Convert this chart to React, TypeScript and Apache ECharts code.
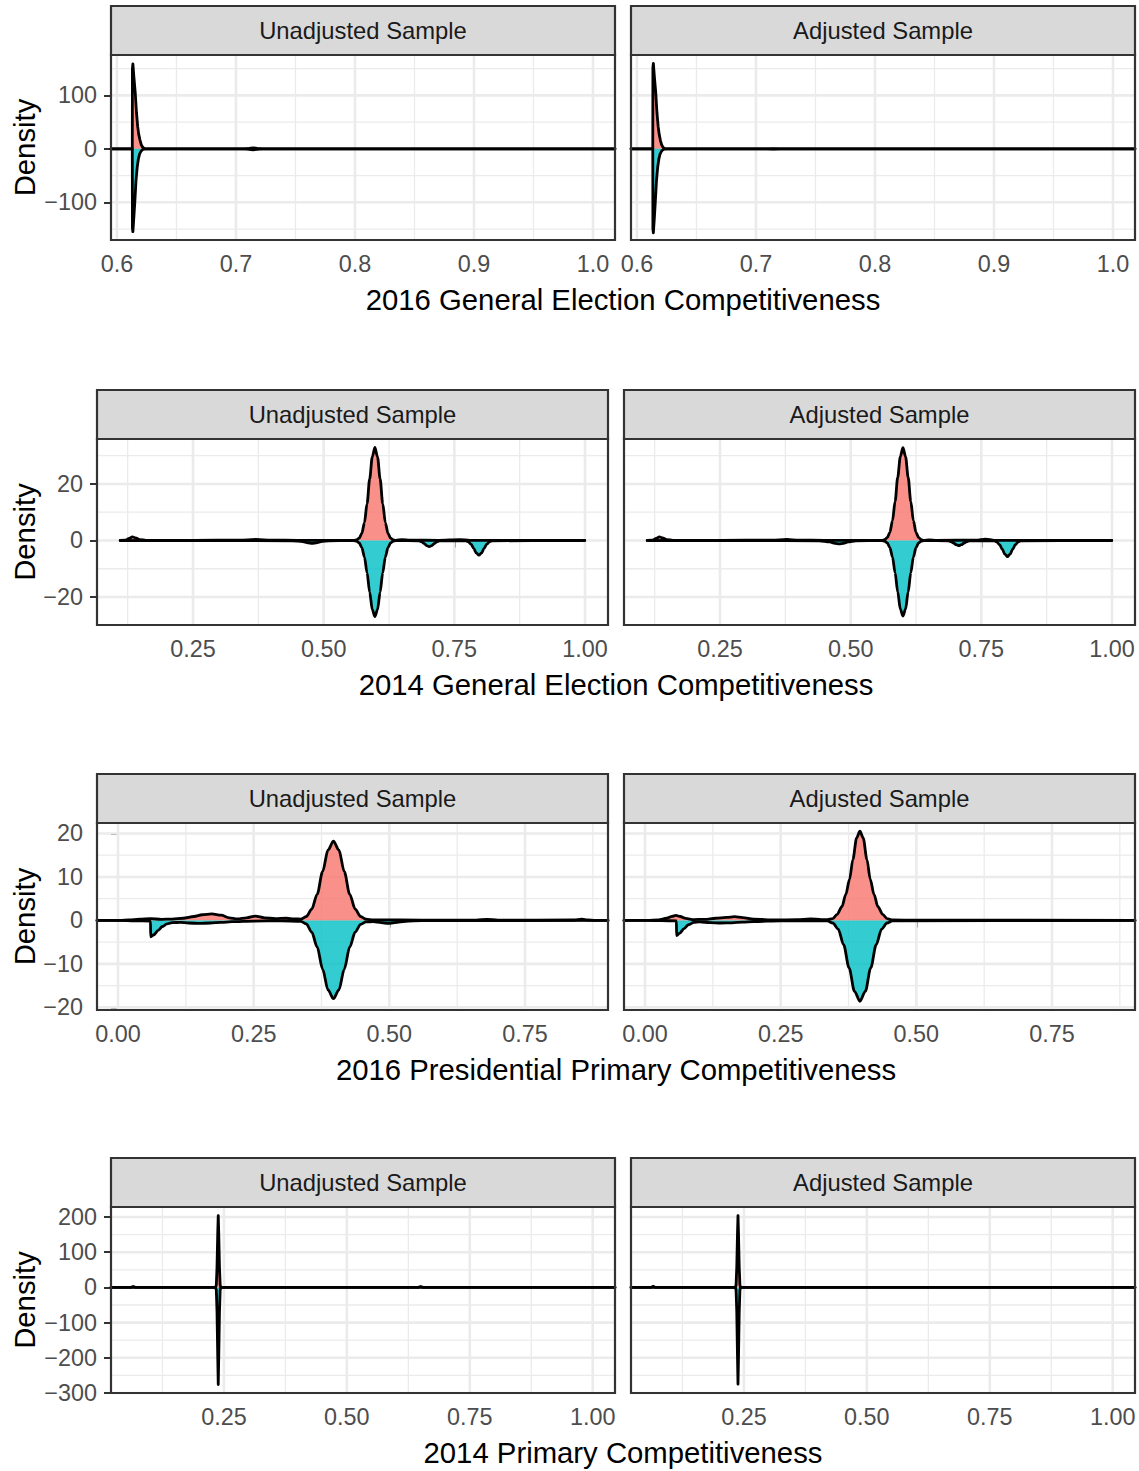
import React, { useEffect, useRef } from 'react';
import * as echarts from 'echarts';

type Pt = [number, number];

const FACETS = ['Unadjusted Sample', 'Adjusted Sample'];
const X_TITLES = [
  '2016 General Election Competitiveness',
  '2014 General Election Competitiveness',
  '2016 Presidential Primary Competitiveness',
  '2014 Primary Competitiveness',
];
const Y_TITLE = 'Density';

// Tick values per row
const ge16XTicks = [0.6, 0.7, 0.8, 0.9, 1.0];
const ge16YTicks = [-100, 0, 100];
const ge14XTicks = [0.25, 0.5, 0.75, 1.0];
const ge14YTicks = [-20, 0, 20];
const pp16XTicks = [0, 0.25, 0.5, 0.75];
const pp16YTicks = [-20, -10, 0, 10, 20];
const pr14XTicks = [0.25, 0.5, 0.75, 1.0];
const pr14YTicks = [-300, -200, -100, 0, 100, 200];

// 2016 general election: upper = first group (drawn up), lower = second group (mirrored down)
const ge16UnadjUpper: Pt[] = [
  [0.595, 0], [0.6129, 0], [0.613, 150], [0.6134, 159], [0.6142, 135], [0.6154, 104], [0.6164, 68],
  [0.6174, 42], [0.6183, 27], [0.6193, 17], [0.6204, 8], [0.6216, 3], [0.623, 0.6], [0.625, 0],
  [0.707, 0], [0.711, 0.8], [0.7145, 1.8], [0.718, 0.8], [0.722, 0], [1.0185, 0],
];
const ge16UnadjLower: Pt[] = [
  [0.595, 0], [0.6129, 0], [0.613, -148], [0.6134, -155], [0.6142, -128], [0.615, -100], [0.616, -60],
  [0.617, -35], [0.618, -19], [0.619, -10], [0.6202, -4.5], [0.6215, -1.5], [0.623, -0.3], [0.625, 0],
  [0.707, 0], [0.711, -0.8], [0.7145, -1.8], [0.718, -0.8], [0.722, 0], [1.0185, 0],
];
const ge16AdjUpper: Pt[] = [
  [0.595, 0], [0.6133, 0], [0.6134, 152], [0.6138, 160], [0.6146, 136], [0.6158, 105], [0.6168, 68],
  [0.6178, 42], [0.6187, 27], [0.6197, 16], [0.6207, 8], [0.6218, 3], [0.6232, 0.6], [0.6252, 0],
  [0.709, 0], [0.7145, 0.4], [0.72, 0], [1.0185, 0],
];
const ge16AdjLower: Pt[] = [
  [0.595, 0], [0.6133, 0], [0.6134, -150], [0.6138, -157], [0.6146, -130], [0.6154, -100], [0.6164, -60],
  [0.6174, -35], [0.6184, -19], [0.6194, -10], [0.6206, -4.5], [0.6219, -1.5], [0.6234, -0.3], [0.6254, 0],
  [0.709, 0], [0.7145, -0.4], [0.72, 0], [1.0185, 0],
];

// 2014 general election
const ge14UnadjUpper: Pt[] = [
  [0.1107, 0], [0.12, 0.1], [0.128, 0.7], [0.134, 1.3], [0.14, 0.9], [0.148, 0.3], [0.16, 0.05],
  [0.25, 0.05], [0.34, 0.1], [0.37, 0.35], [0.4, 0.1], [0.45, 0.05], [0.55, 0.02], [0.558, 0.05],
  [0.563, 0.2], [0.568, 0.8], [0.573, 2.5], [0.578, 6.3], [0.583, 13.0], [0.588, 21.8], [0.593, 29.6],
  [0.598, 32.9], [0.603, 29.6], [0.608, 21.8], [0.613, 13.0], [0.618, 6.3], [0.623, 2.5], [0.628, 0.8],
  [0.633, 0.2], [0.638, 0.05], [0.65, 0.3], [0.665, 0.1], [0.72, 0.05], [0.76, 0.3], [0.78, 0.05],
  [0.9995, 0],
];
const ge14UnadjLower: Pt[] = [
  [0.1107, 0], [0.2, -0.05], [0.3, -0.05], [0.44, -0.1], [0.46, -0.4], [0.47, -0.85], [0.478, -1.0],
  [0.486, -0.85], [0.495, -0.4], [0.51, -0.1], [0.55, -0.05], [0.558, -0.05], [0.563, -0.25],
  [0.568, -0.9], [0.573, -2.5], [0.578, -5.9], [0.583, -11.4], [0.588, -18.3], [0.593, -24.5],
  [0.598, -26.9], [0.603, -24.5], [0.608, -18.3], [0.613, -11.4], [0.618, -5.9], [0.623, -2.5],
  [0.628, -0.9], [0.633, -0.25], [0.638, -0.05], [0.682, -0.1], [0.687, -0.4], [0.692, -1.0],
  [0.697, -1.8], [0.702, -2.2], [0.707, -1.8], [0.712, -1.0], [0.717, -0.4], [0.722, -0.1],
  [0.772, -0.1], [0.777, -0.5], [0.782, -1.3], [0.787, -2.8], [0.792, -4.4], [0.797, -5.2],
  [0.802, -4.4], [0.807, -2.8], [0.812, -1.3], [0.817, -0.5], [0.822, -0.1], [0.9995, 0],
];
const ge14AdjUpper: Pt[] = [
  [0.1107, 0], [0.12, 0.1], [0.128, 0.7], [0.134, 1.3], [0.14, 0.9], [0.148, 0.3], [0.16, 0.05],
  [0.25, 0.05], [0.35, 0.1], [0.378, 0.4], [0.4, 0.1], [0.45, 0.05], [0.55, 0.02], [0.56, 0.07],
  [0.565, 0.3], [0.57, 1.0], [0.575, 2.9], [0.58, 7.0], [0.585, 13.8], [0.59, 22.3], [0.595, 29.7],
  [0.6, 32.8], [0.605, 29.7], [0.61, 22.3], [0.615, 13.8], [0.62, 7.0], [0.625, 2.9], [0.63, 1.0],
  [0.635, 0.3], [0.64, 0.07], [0.65, 0.2], [0.665, 0.05], [0.74, 0.1], [0.758, 0.5], [0.775, 0.05],
  [0.9995, 0],
];
const ge14AdjLower: Pt[] = [
  [0.1107, 0], [0.3, -0.05], [0.44, -0.1], [0.46, -0.5], [0.47, -1.0], [0.478, -1.2], [0.486, -1.0],
  [0.495, -0.5], [0.51, -0.1], [0.56, -0.05], [0.565, -0.25], [0.57, -0.9], [0.575, -2.5],
  [0.58, -5.9], [0.585, -11.4], [0.59, -18.2], [0.595, -24.3], [0.6, -26.7], [0.605, -24.3],
  [0.61, -18.2], [0.615, -11.4], [0.62, -5.9], [0.625, -2.5], [0.63, -0.9], [0.635, -0.25],
  [0.64, -0.05], [0.687, -0.1], [0.692, -0.4], [0.697, -0.9], [0.702, -1.5], [0.707, -1.8],
  [0.712, -1.5], [0.717, -0.9], [0.722, -0.4], [0.727, -0.1], [0.775, -0.1], [0.78, -0.6],
  [0.785, -1.5], [0.79, -3.1], [0.795, -4.8], [0.8, -5.7], [0.805, -4.8], [0.81, -3.1], [0.815, -1.5],
  [0.82, -0.6], [0.825, -0.1], [0.9995, 0],
];

// 2016 presidential primary
const pp16UnadjUpper: Pt[] = [
  [-0.0387, 0], [0.0041, 0], [0.02, 0.1], [0.04, 0.3], [0.06, 0.4], [0.08, 0.25], [0.1, 0.3], [0.12, 0.5],
  [0.14, 0.9], [0.155, 1.3], [0.173, 1.5], [0.19, 1.2], [0.205, 0.6], [0.22, 0.35], [0.237, 0.6],
  [0.253, 1.0], [0.27, 0.6], [0.29, 0.4], [0.31, 0.5], [0.325, 0.35], [0.337, 0.3], [0.347, 0.9],
  [0.357, 2.6], [0.367, 6.0], [0.377, 11.2], [0.387, 16.2], [0.397, 18.2], [0.407, 16.2], [0.417, 11.2],
  [0.427, 6.0], [0.437, 2.6], [0.447, 0.9], [0.457, 0.3], [0.47, 0.1], [0.52, 0.1], [0.6, 0.05],
  [0.66, 0.05], [0.68, 0.25], [0.7, 0.05], [0.84, 0.1], [0.855, 0.3], [0.865, 0.1], [0.88, 0],
  [0.9029, 0],
];
const pp16UnadjLower: Pt[] = [
  [-0.0387, 0], [0.0041, 0], [0.03, -0.1], [0.0599, -0.15], [0.0602, -3.8], [0.066, -3.3], [0.074, -2.3],
  [0.082, -1.4], [0.09, -0.8], [0.1, -0.5], [0.115, -0.45], [0.13, -0.6], [0.15, -0.7], [0.17, -0.6],
  [0.19, -0.45], [0.21, -0.3], [0.25, -0.15], [0.3, -0.1], [0.337, -0.2], [0.347, -0.8], [0.357, -2.7],
  [0.367, -6.1], [0.377, -11.2], [0.387, -16.0], [0.397, -18.0], [0.407, -16.0], [0.417, -11.2],
  [0.427, -6.1], [0.437, -2.7], [0.447, -0.9], [0.457, -0.35], [0.47, -0.3], [0.485, -0.5],
  [0.498, -0.7], [0.51, -0.5], [0.53, -0.2], [0.56, -0.05], [0.9029, 0],
];
const pp16AdjUpper: Pt[] = [
  [-0.0387, 0], [0.0041, 0], [0.025, 0.1], [0.04, 0.5], [0.05, 0.95], [0.057, 1.15], [0.065, 0.9],
  [0.075, 0.45], [0.09, 0.2], [0.11, 0.25], [0.13, 0.5], [0.15, 0.7], [0.165, 0.85], [0.18, 0.65],
  [0.2, 0.3], [0.24, 0.1], [0.28, 0.15], [0.305, 0.35], [0.325, 0.2], [0.336, 0.15], [0.346, 0.4],
  [0.354, 1.4], [0.363, 3.2], [0.37, 6.0], [0.377, 9.5], [0.383, 14.0], [0.39, 19.0], [0.396, 20.5],
  [0.402, 19.0], [0.409, 14.0], [0.415, 9.5], [0.422, 6.0], [0.429, 3.2], [0.438, 1.4], [0.446, 0.4],
  [0.456, 0.1], [0.5, 0.05], [0.55, 0.05], [0.9029, 0],
];
const pp16AdjLower: Pt[] = [
  [-0.0387, 0], [0.0041, 0], [0.03, -0.05], [0.0579, -0.1], [0.0582, -3.5], [0.064, -2.9], [0.072, -1.9],
  [0.08, -1.0], [0.09, -0.45], [0.1, -0.35], [0.12, -0.5], [0.14, -0.6], [0.16, -0.55], [0.18, -0.4],
  [0.2, -0.25], [0.25, -0.1], [0.336, -0.1], [0.346, -0.6], [0.356, -2.0], [0.366, -5.6], [0.376, -10.9],
  [0.386, -16.3], [0.396, -18.6], [0.406, -16.3], [0.416, -10.9], [0.426, -5.6], [0.436, -2.0],
  [0.446, -0.6], [0.456, -0.1], [0.9029, 0],
];

// 2014 primary
const pr14UnadjUpper: Pt[] = [
  [0.0203, 0], [0.061, 0], [0.0655, 2.5], [0.07, 0], [0.2329, 0], [0.2345, 7], [0.2359, 58],
  [0.2374, 155], [0.2384, 204], [0.2394, 155], [0.2409, 58], [0.2423, 7], [0.2439, 0],
  [0.645, 0], [0.65, 2.5], [0.655, 0], [1.0453, 0],
];
const pr14UnadjLower: Pt[] = [
  [0.0203, 0], [0.2329, 0], [0.2345, -8], [0.2359, -70], [0.2374, -200], [0.2384, -276],
  [0.2394, -200], [0.2409, -70], [0.2423, -8], [0.2439, 0], [1.0453, 0],
];
const pr14AdjUpper: Pt[] = [
  [0.0203, 0], [0.061, 0], [0.0655, 3], [0.07, 0], [0.2324, 0], [0.234, 7], [0.2354, 58],
  [0.2369, 155], [0.2379, 204], [0.2389, 155], [0.2404, 58], [0.2418, 7], [0.2434, 0], [1.0453, 0],
];
const pr14AdjLower: Pt[] = [
  [0.0203, 0], [0.2324, 0], [0.234, -8], [0.2354, -70], [0.2369, -200], [0.2379, -275],
  [0.2389, -200], [0.2404, -70], [0.2418, -8], [0.2434, 0], [1.0453, 0],
];

const FONT = '"Liberation Sans", Arial, Helvetica, sans-serif';
const UPPER_FILL = 'rgba(248,118,109,0.8)';
const LOWER_FILL = 'rgba(0,191,196,0.8)';

interface RowSpec {
  title: string;
  xTicks: number[];
  yTicks: number[];
  xRange: [number, number];
  yRange: [number, number];
  decimals: number;
  curves: [Pt[], Pt[]][];
  lefts: number[];
  width: number;
  top: number;
  height: number;
  smooth: number | false;
}

const ROWS: RowSpec[] = [
  {
    title: X_TITLES[0], xTicks: ge16XTicks, yTicks: ge16YTicks, xRange: [0.595, 1.0185], yRange: [-170.5, 175.5],
    decimals: 1, curves: [[ge16UnadjUpper, ge16UnadjLower], [ge16AdjUpper, ge16AdjLower]],
    lefts: [111, 631], width: 504, top: 55, height: 185, smooth: false,
  },
  {
    title: X_TITLES[1], xTicks: ge14XTicks, yTicks: ge14YTicks, xRange: [0.0663, 1.044], yRange: [-29.9, 35.9],
    decimals: 2, curves: [[ge14UnadjUpper, ge14UnadjLower], [ge14AdjUpper, ge14AdjLower]],
    lefts: [97, 624], width: 511, top: 439, height: 186, smooth: 0.3,
  },
  {
    title: X_TITLES[2], xTicks: pp16XTicks, yTicks: pp16YTicks, xRange: [-0.0387, 0.9029], yRange: [-20.6, 22.4],
    decimals: 2, curves: [[pp16UnadjUpper, pp16UnadjLower], [pp16AdjUpper, pp16AdjLower]],
    lefts: [97, 624], width: 511, top: 823, height: 187, smooth: 0.3,
  },
  {
    title: X_TITLES[3], xTicks: pr14XTicks, yTicks: pr14YTicks, xRange: [0.0203, 1.0453], yRange: [-300, 228.4],
    decimals: 2, curves: [[pr14UnadjUpper, pr14UnadjLower], [pr14AdjUpper, pr14AdjLower]],
    lefts: [111, 631], width: 504, top: 1207, height: 186, smooth: false,
  },
];

const STRIP_H = 49;

// Minor breaks sit halfway between major breaks (and half a step outside them when in range)
function minorBreaks(ticks: number[], range: [number, number]): number[] {
  const out: number[] = [];
  const step = ticks[1] - ticks[0];
  const cands = [ticks[0] - step / 2];
  for (let i = 0; i < ticks.length - 1; i++) cands.push((ticks[i] + ticks[i + 1]) / 2);
  cands.push(ticks[ticks.length - 1] + step / 2);
  cands.forEach((c) => {
    if (c > range[0] + 1e-9 && c < range[1] - 1e-9) out.push(c);
  });
  return out;
}

const fmtY = (v: number) => (v < 0 ? '\u2212' + Math.abs(v) : String(v));

function buildOption() {
  const grid: any[] = [];
  const xAxis: any[] = [];
  const yAxis: any[] = [];
  const series: any[] = [];
  const graphic: any[] = [];

  ROWS.forEach((row) => {
    const gridData: number[][] = [];
    minorBreaks(row.xTicks, row.xRange).forEach((v) => gridData.push([0, v, 0]));
    minorBreaks(row.yTicks, row.yRange).forEach((v) => gridData.push([1, v, 0]));
    row.xTicks.forEach((v) => gridData.push([0, v, 1]));
    row.yTicks.forEach((v) => gridData.push([1, v, 1]));

    row.lefts.forEach((left, p) => {
      const idx = grid.length;
      grid.push({
        left, top: row.top, width: row.width, height: row.height,
        containLabel: false, outerBoundsMode: 'none', show: false,
      });
      xAxis.push({
        type: 'value', gridIndex: idx, min: row.xRange[0], max: row.xRange[1],
        axisLine: { show: false },
        axisTick: { show: true, length: 7, customValues: row.xTicks, lineStyle: { color: '#333333', width: 2 } },
        axisLabel: {
          show: true, customValues: row.xTicks, margin: 12, fontSize: 23.4, fontFamily: FONT, color: '#4D4D4D',
          formatter: (v: number) => v.toFixed(row.decimals),
        },
        splitLine: { show: false },
        minorSplitLine: { show: false },
      });
      yAxis.push({
        type: 'value', gridIndex: idx, min: row.yRange[0], max: row.yRange[1],
        axisLine: { show: false },
        axisTick: { show: p === 0, length: 7, customValues: row.yTicks, lineStyle: { color: '#333333', width: 2 } },
        axisLabel: {
          show: p === 0, customValues: row.yTicks, margin: 14, fontSize: 23.4, fontFamily: FONT, color: '#4D4D4D',
          formatter: fmtY,
        },
        splitLine: { show: false },
        minorSplitLine: { show: false },
      });

      // panel grid lines
      series.push({
        type: 'custom', xAxisIndex: idx, yAxisIndex: idx, z: 1, silent: true, clip: false,
        data: gridData,
        renderItem: (params: any, api: any) => {
          const cs = params.coordSys;
          const dir = api.value(0);
          const v = api.value(1);
          const w = api.value(2) === 1 ? 2.6 : 1.3;
          if (dir === 0) {
            const px = api.coord([v, row.yRange[0]])[0];
            return {
              type: 'line', shape: { x1: px, y1: cs.y, x2: px, y2: cs.y + cs.height },
              style: { stroke: '#EBEBEB', lineWidth: w },
            };
          }
          const py = api.coord([row.xRange[0], v])[1];
          return {
            type: 'line', shape: { x1: cs.x, y1: py, x2: cs.x + cs.width, y2: py },
            style: { stroke: '#EBEBEB', lineWidth: w },
          };
        },
      });

      const [upper, lower] = row.curves[p];
      [
        { data: upper, fill: UPPER_FILL },
        { data: lower, fill: LOWER_FILL },
      ].forEach((c) => {
        series.push({
          type: 'line', xAxisIndex: idx, yAxisIndex: idx, z: 3, silent: true,
          data: c.data, symbol: 'none', showSymbol: false, clip: true,
          smooth: row.smooth, smoothMonotone: 'x',
          lineStyle: { color: '#000000', width: 2.8, join: 'round', cap: 'round' },
          areaStyle: { color: c.fill, opacity: 1, origin: 'auto' },
          emphasis: { disabled: true },
        });
      });

      // strip
      graphic.push({
        type: 'rect', z: 50, silent: true,
        shape: { x: left, y: row.top - STRIP_H, width: row.width, height: STRIP_H },
        style: { fill: '#D9D9D9', stroke: '#333333', lineWidth: 2.2 },
      });
      graphic.push({
        type: 'text', z: 51, silent: true,
        x: left + row.width / 2, y: row.top - STRIP_H / 2,
        style: {
          text: FACETS[p], fill: '#1A1A1A', fontSize: 23.8, fontFamily: FONT,
          textAlign: 'center', verticalAlign: 'middle', textVerticalAlign: 'middle',
        },
      });
      // panel border
      graphic.push({
        type: 'rect', z: 50, silent: true,
        shape: { x: left, y: row.top, width: row.width, height: row.height },
        style: { fill: 'none', stroke: '#333333', lineWidth: 2.2 },
      });
    });

    const firstLeft = row.lefts[0];
    const lastRight = row.lefts[row.lefts.length - 1] + row.width;
    graphic.push({
      type: 'text', z: 51, silent: true,
      x: (firstLeft + lastRight) / 2, y: row.top + row.height + 59,
      style: {
        text: row.title, fill: '#000000', fontSize: 29.3, fontFamily: FONT,
        textAlign: 'center', verticalAlign: 'middle', textVerticalAlign: 'middle',
      },
    });
    graphic.push({
      type: 'text', z: 51, silent: true,
      x: 24, y: row.top + row.height / 2, rotation: Math.PI / 2,
      style: {
        text: Y_TITLE, fill: '#000000', fontSize: 29.3, fontFamily: FONT,
        textAlign: 'center', verticalAlign: 'middle', textVerticalAlign: 'middle',
      },
    });
  });

  return {
    animation: false,
    backgroundColor: '#FFFFFF',
    grid, xAxis, yAxis, series,
    graphic: { elements: graphic },
  };
}

export default function App() {
  const ref = useRef<HTMLDivElement>(null);
  useEffect(() => {
    if (!ref.current) return;
    const chart = echarts.init(ref.current, null, { renderer: 'svg' });
    chart.setOption(buildOption() as any);
    return () => chart.dispose();
  }, []);
  return (
    <div
      ref={ref}
      style={{ position: 'absolute', left: 0, top: 0, width: 1139, height: 1471, background: '#FFFFFF' }}
    />
  );
}
